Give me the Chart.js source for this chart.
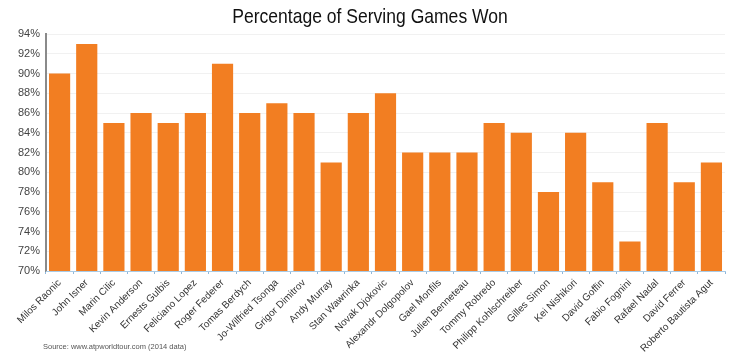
<!DOCTYPE html>
<html>
<head>
<meta charset="utf-8">
<script src="https://cdn.jsdelivr.net/npm/chart.js@4/dist/chart.umd.min.js"></script>
<style>
  html, body { margin: 0; padding: 0; background: #fff; }
  #wrap { width: 750px; height: 361px; position: relative; }
</style>
</head>
<body>
<div id="wrap"><canvas id="chart" width="750" height="361"></canvas></div>
<script>
const players = [
  'Milos Raonic', 'John Isner', 'Marin Cilic', 'Kevin Anderson', 'Ernests Gulbis',
  'Feliciano Lopez', 'Roger Federer', 'Tomas Berdych', 'Jo-Wilfried Tsonga', 'Grigor Dimitrov',
  'Andy Murray', 'Stan Wawrinka', 'Novak Djokovic', 'Alexandr Dolgopolov', 'Gael Monfils',
  'Julien Benneteau', 'Tommy Robredo', 'Philipp Kohlschreiber', 'Gilles Simon', 'Kei Nishikori',
  'David Goffin', 'Fabio Fognini', 'Rafael Nadal', 'David Ferrer', 'Roberto Bautista Agut'
];
const servingWon = [90, 93, 85, 86, 85, 86, 91, 86, 87, 86, 81, 86, 88, 82, 82, 82, 85, 84, 78, 84, 79, 73, 85, 79, 81];
const yMin = 70;
const yMax = 94;
const yStep = 2;
const chartTitle = 'Percentage of Serving Games Won';
const sourceNote = 'Source: www.atpworldtour.com (2014 data)';

const sans = "'Liberation Sans', Arial, sans-serif";

// title (squeezed, the original uses a narrow face) and source line
const textPlugin = {
  id: 'extraText',
  afterDraw(chart) {
    const ctx = chart.ctx;
    ctx.save();
    ctx.font = '21px ' + sans;
    ctx.fillStyle = '#111';
    ctx.textBaseline = 'middle';
    ctx.textAlign = 'center';
    ctx.translate(370, 17);
    ctx.scale(0.835, 1);
    ctx.fillText(chartTitle, 0, 0);
    ctx.restore();

    ctx.save();
    ctx.font = '7.5px ' + sans;
    ctx.fillStyle = '#555';
    ctx.textBaseline = 'middle';
    ctx.fillText(sourceNote, 43, 347);
    ctx.restore();
  }
};

new Chart(document.getElementById('chart'), {
  type: 'bar',
  data: {
    labels: players,
    datasets: [{
      label: chartTitle,
      data: servingWon,
      backgroundColor: '#F27E22',
      borderWidth: 0,
      barPercentage: 0.78,
      categoryPercentage: 1.0
    }]
  },
  options: {
    responsive: false,
    animation: false,
    layout: { padding: { top: 34, right: 25, left: 0, bottom: 0 } },
    plugins: {
      legend: { display: false },
      tooltip: { enabled: false },
      title: { display: false }
    },
    scales: {
      y: {
        min: yMin,
        max: yMax,
        afterFit(scale) { scale.width = 46; },
        ticks: {
          stepSize: yStep,
          color: '#444',
          font: { family: sans, size: 11 },
          padding: 6,
          callback: v => v + '%'
        },
        grid: { color: '#f1f1f1', drawTicks: false },
        border: { color: '#8a8a8a', width: 2 }
      },
      x: {
        afterFit(scale) { scale.height = 90; },
        ticks: {
          color: '#333',
          font: { family: sans, size: 10 },
          maxRotation: 45,
          minRotation: 45,
          autoSkip: false,
          padding: 3
        },
        grid: {
          offset: true,
          drawOnChartArea: false,
          color: '#8fb8dc',
          tickLength: 3
        },
        border: { color: '#a9cbe6', width: 1 }
      }
    }
  },
  plugins: [textPlugin]
});
</script>
</body>
</html>
